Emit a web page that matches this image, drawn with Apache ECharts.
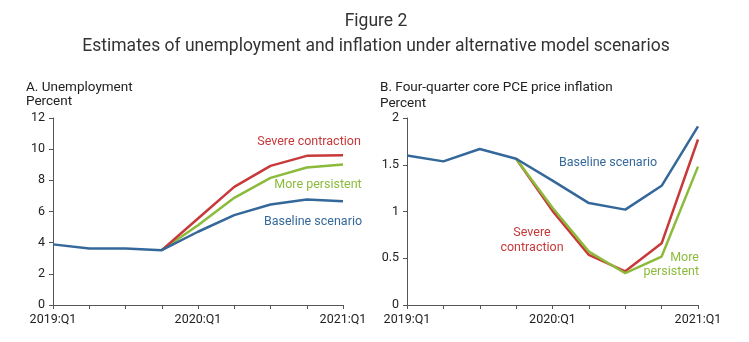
<!DOCTYPE html>
<html><head><meta charset="utf-8">
<script src="https://cdn.jsdelivr.net/npm/echarts@6/dist/echarts.min.js"></script>
<style>html,body{margin:0;padding:0;background:#fff}#c{width:749px;height:342px}</style>
</head><body><div id="c"></div>
<script>
const quarters = ['2019:Q1','2019:Q2','2019:Q3','2019:Q4','2020:Q1','2020:Q2','2020:Q3','2020:Q4','2021:Q1'];
const unempBaseline = [3.89, 3.63, 3.63, 3.52, 4.70, 5.77, 6.45, 6.77, 6.66];
const unempSevere = [null, null, null, 3.52, 5.55, 7.58, 8.93, 9.57, 9.61];
const unempPersistent = [null, null, null, 3.52, 5.12, 6.88, 8.16, 8.82, 9.01];
const inflBaseline = [1.60, 1.536, 1.668, 1.564, 1.33, 1.09, 1.02, 1.275, 1.91];
const inflSevere = [null, null, null, 1.564, 1.007, 0.536, 0.36, 0.66, 1.77];
const inflPersistent = [null, null, null, 1.564, 1.04, 0.571, 0.34, 0.518, 1.48];
const unempTicks = [0, 2, 4, 6, 8, 10, 12];
const inflTicks = [0, 0.5, 1, 1.5, 2];

const BLUE = '#35689a', RED = '#c8393a', GREEN = '#8cbb3c';
const FONT = 'Roboto';
const chart = echarts.init(document.getElementById('c'));
function xAxis(i){
  return {type:'category', gridIndex:i, data:quarters, boundaryGap:false,
    axisLine:{lineStyle:{color:'#555', width:1}},
    axisTick:{show:true, interval:0, length:4, lineStyle:{color:'#555'}},
    axisLabel:{interval:0, color:'#222', fontFamily:FONT, fontSize:12.5, margin:8,
      formatter:(v,idx)=> (idx%4===0 ? v : '')}
  };
}
function yAxis(i, ticks){
  return {type:'value', gridIndex:i, min:ticks[0], max:ticks[ticks.length-1], interval:ticks[1]-ticks[0],
    axisLine:{show:true, lineStyle:{color:'#555'}},
    axisTick:{show:true, length:4, lineStyle:{color:'#555'}},
    splitLine:{show:false},
    axisLabel:{color:'#222', fontFamily:FONT, fontSize:12.5, margin:8}
  };
}
function line(x, data, color, z){
  return {type:'line', xAxisIndex:x, yAxisIndex:x, data:data, symbol:'none', smooth:false, z:z,
    lineStyle:{color:color, width:2.5}, itemStyle:{color:color}, connectNulls:false};
}
function txt(x, y, s, color, align){
  return {type:'text', x:x, y:y, style:{text:s, fill:color, font:'12.5px '+FONT, textAlign:align||'center', textVerticalAlign:'middle'}};
}
function head(x, y, s){
  return {type:'text', x:x, y:y, style:{text:s, fill:'#222', font:'13.5px '+FONT, textAlign:'left', textVerticalAlign:'middle'}};
}
chart.setOption({
  animation:false,
  grid:[{left:53, top:118, width:290, height:187}, {left:407, top:118, width:291, height:187}],
  xAxis:[xAxis(0), xAxis(1)],
  yAxis:[yAxis(0, unempTicks), yAxis(1, inflTicks)],
  series:[
    line(0, unempPersistent, GREEN, 2), line(0, unempSevere, RED, 3), line(0, unempBaseline, BLUE, 4),
    line(1, inflPersistent, GREEN, 3), line(1, inflSevere, RED, 2), line(1, inflBaseline, BLUE, 4)
  ],
  graphic:[
    {type:'text', x:376, y:22, style:{text:'Figure 2', fill:'#333', font:'17.5px '+FONT, textAlign:'center', textVerticalAlign:'middle'}},
    {type:'text', x:376, y:47, style:{text:'Estimates of unemployment and inflation under alternative model scenarios', fill:'#333', font:'17.5px '+FONT, textAlign:'center', textVerticalAlign:'middle'}},
    head(26, 88, 'A. Unemployment'),
    head(26, 102, 'Percent'),
    head(380, 88, 'B. Four-quarter core PCE price inflation'),
    head(380, 104, 'Percent'),
    txt(309, 142, 'Severe contraction', RED),
    txt(318, 185, 'More persistent', GREEN),
    txt(313, 222, 'Baseline scenario', BLUE),
    txt(608, 163, 'Baseline scenario', BLUE),
    txt(532, 233, 'Severe', RED),
    txt(532, 248, 'contraction', RED),
    txt(699, 258, 'More', GREEN, 'right'),
    txt(699, 272, 'persistent', GREEN, 'right')
  ]
});
</script></body></html>
